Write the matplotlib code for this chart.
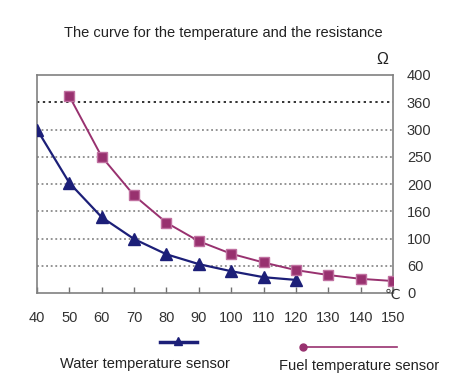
import matplotlib.pyplot as plt
from matplotlib.lines import Line2D

plt.rcParams['font.family'] = ['Liberation Sans', 'DejaVu Sans']

# temperature (C) and resistance, read in chart grid units (50 units per gridline)
temps = [40, 50, 60, 70, 80, 90, 100, 110, 120, 130, 140, 150]
water_x = [40, 50, 60, 70, 80, 90, 100, 110, 120]
water_y = [300, 202, 139, 99, 71, 53, 40, 29, 24]
fuel_x = [50, 60, 70, 80, 90, 100, 110, 120, 130, 140, 150]
fuel_y = [361, 250, 179, 129, 95, 72, 56, 42, 33, 26, 22]
y_ticks = [0, 50, 100, 150, 200, 250, 300, 350, 400]
y_labels = ['0', '60', '100', '160', '200', '250', '300', '360', '400']

water_color = '#1c1f78'
fuel_color = '#98316f'

fig = plt.figure(figsize=(4.63, 3.81), dpi=100)
ax = fig.add_axes([37 / 463, 1 - 293 / 381, 356 / 463, 218 / 381])

ax.plot(water_x, water_y, color=water_color, linewidth=1.6, marker='^',
        markersize=8, markerfacecolor=water_color, markeredgecolor=water_color, zorder=3)
ax.plot(fuel_x, fuel_y, color=fuel_color, linewidth=1.4, marker='s',
        markersize=7.5, markerfacecolor=fuel_color, markeredgecolor='#c070a0', zorder=3)

ax.set_xlim(40, 150)
ax.set_ylim(0, 400)
ax.set_xticks(temps)
ax.set_xticklabels([str(t) for t in temps], fontsize=10.5, color='#333333')
ax.tick_params(axis='x', direction='in', length=4, width=1, color='#707070', pad=13)

ax.yaxis.tick_right()
ax.set_yticks(y_ticks)
ax.set_yticklabels(y_labels, fontsize=10.5, color='#333333')
ax.tick_params(axis='y', length=0, pad=10)

ax.yaxis.grid(True, linestyle=(0, (1.2, 1.8)), color='#777777', linewidth=1.1)
ax.get_ygridlines()[7].set_color('#333333')
ax.get_ygridlines()[7].set_linewidth(1.4)
ax.get_ygridlines()[0].set_visible(False)
ax.get_ygridlines()[8].set_visible(False)

for s in ax.spines.values():
    s.set_color('#808080')
    s.set_linewidth(1.2)

fig.text(223 / 463, 1 - 33 / 381, 'The curve for the temperature and the resistance',
         ha='center', va='center', fontsize=10.5, color='#222222')
fig.text(382 / 463, 1 - 60 / 381, 'Ω', ha='center', va='center', fontsize=11.5, color='#222222')
fig.text(392 / 463, 1 - 295 / 381, '℃', ha='center', va='center', fontsize=10,
         color='#333333', family=['DejaVu Sans'])

# legend
fig.add_artist(Line2D([160 / 463, 197 / 463], [1 - 342 / 381] * 2, color=water_color,
                      linewidth=2.5, transform=fig.transFigure))
fig.add_artist(Line2D([178 / 463], [1 - 341 / 381], color=water_color, marker='^',
                      markersize=6, linestyle='none', transform=fig.transFigure))
fig.text(145 / 463, 1 - 364 / 381, 'Water temperature sensor', ha='center', va='center',
         fontsize=10.5, color='#222222')
fig.add_artist(Line2D([303 / 463, 397 / 463], [1 - 347 / 381] * 2, color=fuel_color,
                      linewidth=1.2, transform=fig.transFigure))
fig.add_artist(Line2D([303 / 463], [1 - 347 / 381], color=fuel_color, marker='o',
                      markersize=5, linestyle='none', transform=fig.transFigure))
fig.text(359 / 463, 1 - 366 / 381, 'Fuel temperature sensor', ha='center', va='center',
         fontsize=10.5, color='#222222')

fig.savefig('out.png', dpi=100)
